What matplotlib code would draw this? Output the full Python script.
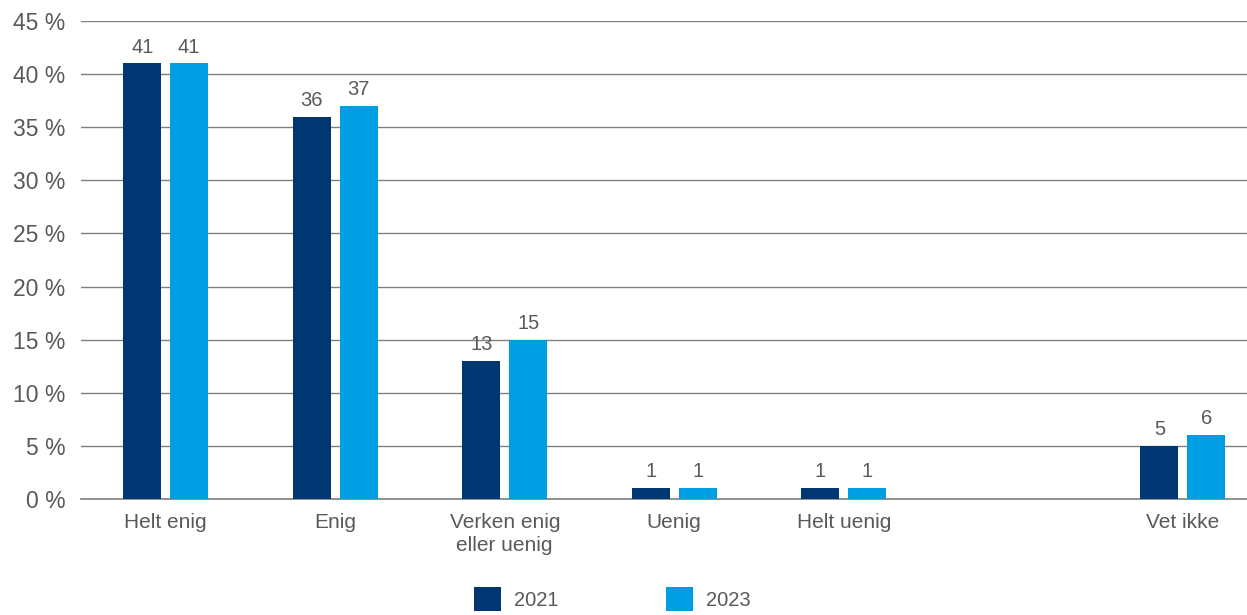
import matplotlib
matplotlib.use("Agg")
import matplotlib.pyplot as plt
import numpy as np

categories = ["Helt enig", "Enig", "Verken enig\neller uenig", "Uenig", "Helt uenig", "", "Vet ikke"]
values_2021 = [41, 36, 13, 1, 1, None, 5]
values_2023 = [41, 37, 15, 1, 1, None, 6]
series_names = ["2021", "2023"]
y_ticks = [0, 5, 10, 15, 20, 25, 30, 35, 40, 45]

color_2021 = "#003671"
color_2023 = "#009FE3"
text_color = "#595959"

plt.rcParams['font.family'] = ['Liberation Sans', 'DejaVu Sans']

fig = plt.figure(figsize=(12.47, 6.15), dpi=100)
left = 81 / 1247
ax = fig.add_axes([left, 0.1886, 1 - left, 0.7773])

x = np.arange(len(categories))
width = 0.224
offset = 0.138

def clean(vals):
    return [np.nan if v is None else v for v in vals]

b1 = ax.bar(x - offset, clean(values_2021), width, color=color_2021, label=series_names[0], zorder=3)
b2 = ax.bar(x + offset, clean(values_2023), width, color=color_2023, label=series_names[1], zorder=3)

for bars, vals in ((b1, values_2021), (b2, values_2023)):
    labels = ["" if v is None else f"{v}" for v in vals]
    ax.bar_label(bars, labels=labels, padding=5, fontsize=14.5, color=text_color)

ax.set_ylim(0, 45)
ax.set_xlim(-0.5, -0.5 + (1247 - 81) / 169.5)
ax.set_yticks(y_ticks)
ax.set_yticklabels([f"{t} %" for t in y_ticks])
ax.set_xticks(x)
ax.set_xticklabels(categories, linespacing=1.25)

ax.tick_params(axis='y', length=0, pad=11, labelsize=16.5, labelcolor=text_color)
ax.tick_params(axis='x', length=0, pad=10, labelsize=15, labelcolor=text_color)

ax.yaxis.grid(True, color="#808080", linewidth=1.0, zorder=0)
ax.set_axisbelow(True)
for s in ["top", "right", "left"]:
    ax.spines[s].set_visible(False)
ax.spines["bottom"].set_color("#7f7f7f")
ax.spines["bottom"].set_linewidth(1.2)

fig.legend(handles=[b1, b2], labels=series_names, loc="center", bbox_to_anchor=(0.491, 1 - 599 / 615),
           ncol=2, frameon=False, fontsize=14.5, labelcolor=text_color,
           handlelength=1.35, handleheight=1.4, handletextpad=0.65, columnspacing=5.35)

fig.savefig("out.png", dpi=100)
